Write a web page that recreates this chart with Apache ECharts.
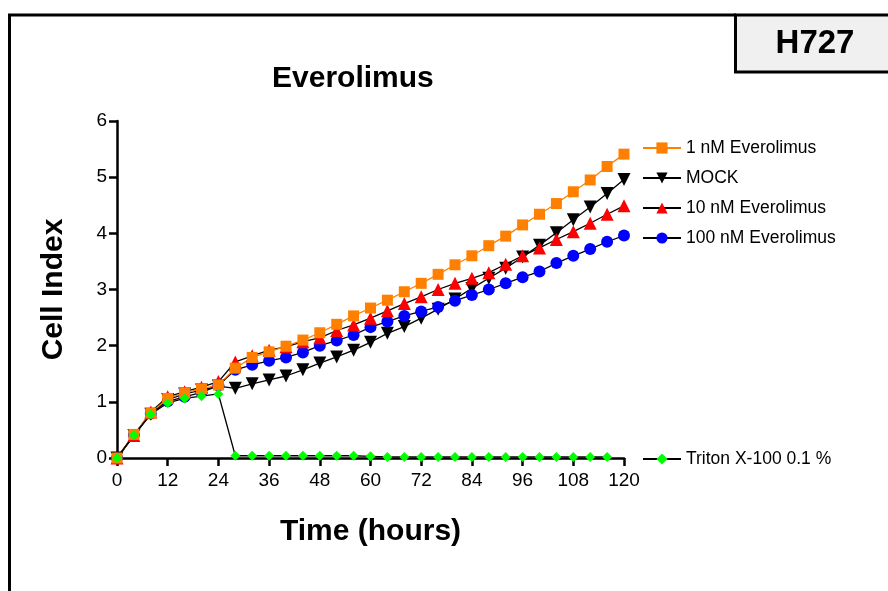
<!DOCTYPE html>
<html>
<head>
<meta charset="utf-8">
<script src="https://cdn.jsdelivr.net/npm/echarts@6/dist/echarts.min.js"></script>
<style>
html,body{margin:0;padding:0;background:#fff;}
#c{width:888px;height:591px;}
</style>
</head>
<body>
<div id="c"></div>
<script>
const hours = [0,4,8,12,16,20,24,28,32,36,40,44,48,52,56,60,64,68,72,76,80,84,88,92,96,100,104,108,112,116,120];
const xTicks = [0,12,24,36,48,60,72,84,96,108,120];
const yTicks = [0,1,2,3,4,5,6];
const nm1 = [0,0.42,0.80,1.06,1.16,1.23,1.30,1.60,1.79,1.89,1.99,2.10,2.23,2.38,2.53,2.67,2.81,2.96,3.11,3.27,3.44,3.60,3.78,3.95,4.15,4.34,4.53,4.74,4.95,5.19,5.41];
const mock = [0,0.40,0.78,1.04,1.14,1.21,1.28,1.24,1.32,1.39,1.46,1.57,1.69,1.80,1.92,2.06,2.22,2.34,2.49,2.65,2.83,3.02,3.20,3.38,3.58,3.79,4.01,4.24,4.47,4.71,4.96];
const nm10 = [0,0.40,0.82,1.09,1.18,1.26,1.36,1.71,1.82,1.92,1.98,2.07,2.14,2.27,2.37,2.49,2.62,2.75,2.87,3.00,3.11,3.20,3.30,3.45,3.60,3.74,3.89,4.03,4.18,4.34,4.49];
const nm100 = [0,0.41,0.79,1.01,1.09,1.17,1.29,1.57,1.66,1.73,1.79,1.88,2.00,2.09,2.19,2.33,2.43,2.53,2.61,2.69,2.80,2.90,3.00,3.11,3.22,3.32,3.47,3.60,3.72,3.85,3.96];
const triton = [0,0.41,0.78,0.98,1.06,1.10,1.14,0.04,0.04,0.04,0.04,0.04,0.04,0.04,0.04,0.03,0.02,0.02,0.02,0.02,0.02,0.02,0.02,0.02,0.02,0.02,0.02,0.02,0.02,0.02];
const names = ['1 nM Everolimus','MOCK','10 nM Everolimus','100 nM Everolimus','Triton X-100 0.1 %'];

const pairs = arr => arr.map((v,i)=>[hours[i], v]);
const chart = echarts.init(document.getElementById('c'), null, {renderer:'canvas'});
const F = 'Arial, "Liberation Sans", sans-serif';

function ser(name, data, sym, size, color, lineColor, rotate){
  return {
    name, type:'line', data: pairs(data), symbol: sym, symbolSize: size,
    symbolRotate: rotate || 0, showAllSymbol: true, animation:false,
    itemStyle:{color: color, borderWidth:0},
    lineStyle:{color: lineColor, width:1.3},
    emphasis:{disabled:true}
  };
}

chart.setOption({
  backgroundColor:'#fff',
  animation:false,
  title:{text:'Everolimus', left:272, top:64, padding:0,
    textStyle:{fontFamily:F, fontSize:30, fontWeight:'bold', color:'#000'}},
  grid:{left:117, right:264, top:121, bottom:133, containLabel:false},
  xAxis:{type:'value', min:0, max:120, interval:12,
    name:'Time (hours)', nameLocation:'middle', nameGap:59,
    nameTextStyle:{fontFamily:F, fontSize:30, fontWeight:'bold', color:'#000'},
    axisLine:{show:true, onZero:false, lineStyle:{color:'#000', width:2.5}},
    axisTick:{show:true, length:8, lineStyle:{color:'#000', width:2.5}},
    axisLabel:{fontFamily:F, fontSize:19, color:'#000', margin:13,
      formatter: v => xTicks.includes(v) ? String(v) : ''},
    splitLine:{show:false}},
  yAxis:{type:'value', min:0, max:6, interval:1,
    name:'Cell Index', nameLocation:'middle', nameGap:48, nameRotate:90,
    nameTextStyle:{fontFamily:F, fontSize:30, fontWeight:'bold', color:'#000'},
    axisLine:{show:true, onZero:false, lineStyle:{color:'#000', width:2.5}},
    axisTick:{show:true, length:8, lineStyle:{color:'#000', width:2.5}},
    axisLabel:{fontFamily:F, fontSize:19, color:'#000', margin:10,
      formatter: v => yTicks.includes(v) ? String(v) : ''},
    splitLine:{show:false}},
  legend:[
    {data:[names[0],names[1],names[2],names[3]], orient:'vertical', left:642, top:138, padding:0,
     itemWidth:38, itemHeight:14, itemGap:10, selectedMode:false,
     textStyle:{fontFamily:F, fontSize:17.5, color:'#000', lineHeight:20}},
    {data:[names[4]], orient:'vertical', left:642, top:449, padding:0,
     itemWidth:38, itemHeight:14, selectedMode:false,
     textStyle:{fontFamily:F, fontSize:17.5, color:'#000', lineHeight:20}}
  ],
  graphic:[
    {type:'polyline', shape:{points:[[9.5,591],[9.5,15],[736,15]]}, style:{stroke:'#000', lineWidth:3, fill:null}, silent:true},
    {type:'rect', shape:{x:735.5, y:15, width:160, height:57}, style:{fill:'#f0f0f0', stroke:'#000', lineWidth:3}, silent:true},
    {type:'text', x:815, y:44, style:{text:'H727', font:'bold 33px Arial, "Liberation Sans", sans-serif', fill:'#000', textAlign:'center', textVerticalAlign:'middle'}, silent:true}
  ],
  series:[
    ser(names[1], mock, 'triangle', 13, '#000000', '#000000', 180),
    ser(names[3], nm100, 'circle', 12, '#0000ff', '#000000'),
    ser(names[2], nm10, 'triangle', 13, '#ff0000', '#000000'),
    ser(names[0], nm1, 'rect', 11, '#ff8000', '#ff8000'),
    ser(names[4], triton, 'diamond', 10, '#00ff00', '#000000')
  ]
});
</script>
</body>
</html>
